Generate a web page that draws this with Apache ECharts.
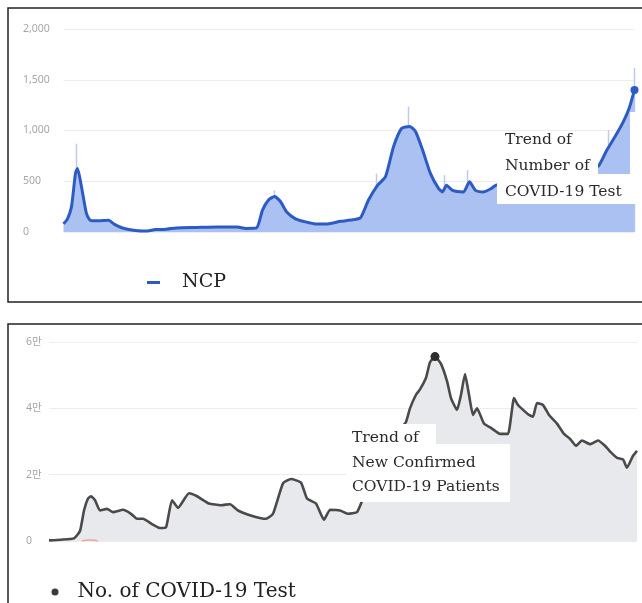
<!DOCTYPE html>
<html><head><meta charset="utf-8">
<script src="https://cdn.jsdelivr.net/npm/echarts@6/dist/echarts.min.js"></script>
<style>html,body{margin:0;padding:0;background:#fff}#c{width:642px;height:603px}</style>
</head><body><div id="c"></div>
<script>
// ---- top panel: NCP (7-day trend), x = day index ----
const ncpDays = [0,4,8,12,14,18,23,27,35,45,51,59,72,84,92,100,113,133,154,174,182,193,199,205,211,217,223,232,242,252,264,277,289,297,305,314,322,330,338,346,352,359,367,375,379,383,389,400,406,412,420,428,432,440,450,460,470,480,490,500,510,520,528,535,543,551,560,566,571];
const ncpValues = [80,130,250,580,625,445,180,115,110,115,75,40,15,10,25,25,40,45,50,50,35,40,215,315,350,300,200,130,100,80,80,105,120,140,315,460,545,840,1020,1040,990,810,575,430,395,460,410,395,495,410,395,430,460,480,520,560,600,620,600,560,580,610,630,650,800,930,1090,1230,1400];
// daily spikes peeking above the trend line
const ncpSpikeDays = [13,211,313,345,381,404,545,571];
const ncpSpikeValues = [870,410,575,1235,560,610,1005,1615];
// ---- bottom panel ----
const testDays = [0,12,25,31,35,39,42,46,51,58,64,74,82,88,94,103,111,117,123,129,140,148,160,172,181,189,205,217,224,234,242,252,258,267,275,281,291,299,308,314,322,330,340,348,352,357,361,367,371,377,381,386,392,398,402,408,412,416,420,424,428,435,443,451,459,465,469,476,480,484,488,494,500,508,515,521,527,533,541,549,556,562,568,574,578,584,588];
const testValues = [200,400,800,3000,9200,12800,13500,12300,9200,9700,8700,9400,8200,6700,6700,5100,3900,4100,12300,10000,14400,13500,11300,10800,11100,9200,7400,6700,8200,17400,18700,17600,12800,11300,6400,9400,9200,8200,8700,12800,18000,24000,28000,32000,34000,35900,40000,44100,45700,49200,53900,55600,53400,48200,43100,39500,44100,50300,44100,38000,40000,35400,33900,32300,32300,43100,41000,39000,38000,37500,41600,41000,38000,35400,32300,30800,28700,30300,29200,30300,28700,26700,25100,24600,22100,25700,27200];
const redDays = [33,37,41,45,49];
const redValues = [0,200,280,200,0];
// ---- axes / text ----
const topAxis = {min: 0, max: 2000, interval: 500};
const bottomAxis = {min: 0, max: 60000, interval: 20000};
const topDayRange = [0, 571];
const bottomDayRange = [0, 588];
const topSeriesName = 'NCP';
const bottomSeriesName = 'No. of COVID-19 Test';
const topNote = 'Trend of\nNumber of\nCOVID-19 Test';
const bottomNote = 'Trend of\nNew Confirmed\nCOVID-19 Patients';

const zip = (xs, ys) => xs.map((x, i) => [x, ys[i]]);
const lastTop = [ncpDays[ncpDays.length - 1], ncpValues[ncpValues.length - 1]];
const peakIdx = testValues.indexOf(Math.max(...testValues));
const peak = [testDays[peakIdx], testValues[peakIdx]];

const BLUE = '#2d5bc4', BLUE_FILL = '#aac1f1', GRAY = '#4a4a4a', GRAY_FILL = '#e7e9ec';
const serif = '"DejaVu Serif", serif';
const labelStyle = {color: '#a6a6a6', fontSize: 10.5, fontFamily: '"Noto Sans", "Noto Sans CJK KR", sans-serif', align: 'left'};

const chart = echarts.init(document.getElementById('c'));
chart.setOption({
  animation: false,
  backgroundColor: '#fff',
  grid: [
    {left: 63.5, right: 7.5, top: 29, bottom: 371},
    {left: 49, right: 5, top: 342, bottom: 62}
  ],
  xAxis: [
    {gridIndex: 0, type: 'value', min: topDayRange[0], max: topDayRange[1], show: false},
    {gridIndex: 1, type: 'value', min: bottomDayRange[0], max: bottomDayRange[1], show: false}
  ],
  yAxis: [
    {gridIndex: 0, type: 'value', min: topAxis.min, max: topAxis.max, interval: topAxis.interval,
     axisLine: {show: false}, axisTick: {show: false},
     splitLine: {lineStyle: {color: '#ededed', width: 1}},
     axisLabel: Object.assign({margin: 40.5, formatter: v => v.toLocaleString('en-US')}, labelStyle)},
    {gridIndex: 1, type: 'value', min: bottomAxis.min, max: bottomAxis.max, interval: bottomAxis.interval,
     axisLine: {show: false}, axisTick: {show: false},
     splitLine: {lineStyle: {color: '#ededed', width: 1}},
     axisLabel: Object.assign({margin: 23, formatter: v => v === 0 ? '0' : (v / 10000) + '만'}, labelStyle)}
  ],
  legend: [
    {data: [topSeriesName], left: 142, top: 268, icon: 'rect', itemWidth: 13, itemHeight: 3,
     textStyle: {fontFamily: serif, fontSize: 19, color: '#222', padding: [0, 0, 0, 17]}},
    {data: [bottomSeriesName], left: 46.5, top: 577, icon: 'circle', itemWidth: 7, itemHeight: 7,
     textStyle: {fontFamily: serif, fontSize: 20, color: '#222', padding: [0, 0, 0, 14]}}
  ],
  series: [
    {type: 'bar', xAxisIndex: 0, yAxisIndex: 0, data: zip(ncpSpikeDays, ncpSpikeValues),
     barWidth: 1.5, itemStyle: {color: '#bdcaea'}, z: 1, silent: true},
    {name: topSeriesName, type: 'line', xAxisIndex: 0, yAxisIndex: 0, data: zip(ncpDays, ncpValues),
     smooth: 0.2, symbol: 'none', clip: false,
     lineStyle: {color: BLUE, width: 3}, itemStyle: {color: BLUE},
     areaStyle: {color: BLUE_FILL, opacity: 1}, z: 2,
     markLine: {silent: true, symbol: 'none', label: {show: false},
       lineStyle: {color: '#d9d9d9', width: 1, type: 'solid'},
       data: [[{coord: [lastTop[0], 2190]}, {coord: [lastTop[0], -207]}]]},
     markPoint: {symbol: 'circle', symbolSize: 8, label: {show: false}, itemStyle: {color: BLUE},
       data: [{coord: lastTop}]}},
    {name: bottomSeriesName, type: 'line', xAxisIndex: 1, yAxisIndex: 1, data: zip(testDays, testValues),
     smooth: 0.15, symbol: 'none', clip: false,
     lineStyle: {color: GRAY, width: 2.6}, itemStyle: {color: '#3a3a3a'},
     areaStyle: {color: GRAY_FILL, opacity: 1}, z: 2,
     markLine: {silent: true, symbol: 'none', label: {show: false},
       lineStyle: {color: '#cfcfcf', width: 1, type: 'solid'},
       data: [[{coord: [peak[0], 65000]}, {coord: peak}]]},
     markPoint: {symbol: 'circle', symbolSize: 9, label: {show: false}, itemStyle: {color: '#2e2e2e'},
       data: [{coord: peak}]}},
    {name: 'red', type: 'line', xAxisIndex: 1, yAxisIndex: 1, data: zip(redDays, redValues),
     smooth: true, symbol: 'none', lineStyle: {color: '#f0a3a3', width: 1.5}, z: 3}
  ],
  graphic: [
    {type: 'rect', z: 50, shape: {x: 497, y: 132, width: 101, height: 72}, style: {fill: '#fff'}},
    {type: 'rect', z: 50, shape: {x: 597, y: 174, width: 40, height: 30}, style: {fill: '#fff'}},
    {type: 'rect', z: 50, shape: {x: 630, y: 112, width: 7, height: 62}, style: {fill: '#fff'}},
    {type: 'rect', z: 50, shape: {x: 346, y: 424, width: 90, height: 78}, style: {fill: '#fff'}},
    {type: 'rect', z: 50, shape: {x: 436, y: 444, width: 74, height: 58}, style: {fill: '#fff'}},
    {type: 'text', z: 60, x: 505, y: 127, style: {text: topNote, font: '15.5px ' + serif, fill: '#2a2a2a', lineHeight: 26, verticalAlign: 'top'}},
    {type: 'text', z: 60, x: 352, y: 426, style: {text: bottomNote, font: '15.5px ' + serif, fill: '#2a2a2a', lineHeight: 24.5, verticalAlign: 'top'}},
    {type: 'rect', z: 100, shape: {x: 8, y: 8, width: 700, height: 294}, style: {fill: 'none', stroke: '#222', lineWidth: 1.5}},
    {type: 'rect', z: 100, shape: {x: 8, y: 324, width: 700, height: 400}, style: {fill: 'none', stroke: '#222', lineWidth: 1.5}}
  ]
});
</script></body></html>
